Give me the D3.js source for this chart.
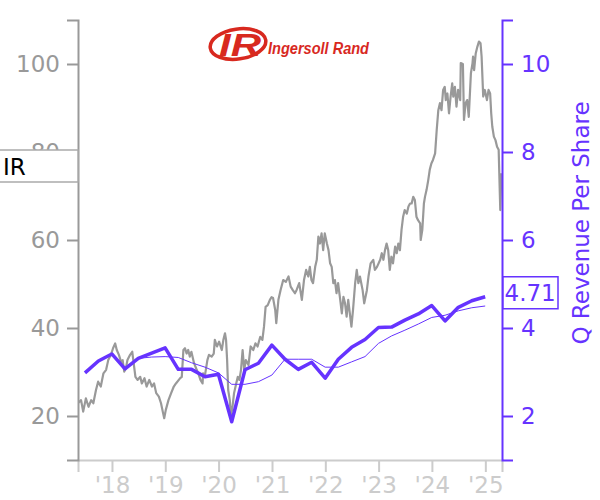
<!DOCTYPE html>
<html><head><meta charset="utf-8">
<script src="https://cdn.jsdelivr.net/npm/d3@7"></script>
<style>html,body{margin:0;padding:0;background:#fff;}svg{display:block;font-family:"DejaVu Sans",sans-serif;}</style>
</head><body><svg id="c" width="600" height="500"></svg>
<script>
// ---- data ----
const ticker = "IR";
const rightTitle = "Q Revenue Per Share";
const lastValueLabel = "4.71";
const xDomain = [2017.3625, 2025.3125];
const leftDomain = [10, 110];
const rightDomain = [1, 11];
const leftTicks = [20, 40, 60, 80, 100];
const rightTicks = [2, 4, 6, 8, 10];
const yearTicks = [2018, 2019, 2020, 2021, 2022, 2023, 2024, 2025];
const yearLabels = ["'18", "'19", "'20", "'21", "'22", "'23", "'24", "'25"];

const priceYears = [2017.36,2017.42,2017.46,2017.51,2017.56,2017.61,2017.65,2017.70,2017.74,2017.79,2017.84,2017.89,2017.93,2017.98,
2018.02,2018.06,2018.09,2018.13,2018.17,2018.20,2018.23,2018.26,2018.29,2018.34,2018.38,2018.40,2018.44,2018.48,2018.53,2018.56,2018.61,2018.65,2018.70,2018.75,2018.79,2018.83,2018.88,2018.92,2018.96,2018.98,
2019.01,2019.06,2019.11,2019.16,2019.20,2019.28,2019.31,2019.34,2019.37,2019.40,2019.43,2019.46,2019.49,2019.54,2019.58,2019.62,2019.66,2019.70,2019.71,2019.74,2019.79,2019.82,2019.87,2019.91,2019.93,2019.97,
2020.01,2020.06,2020.09,2020.12,2020.14,2020.16,2020.18,2020.21,2020.23,2020.26,2020.29,2020.33,2020.36,2020.39,2020.42,2020.45,2020.48,2020.51,2020.56,2020.60,2020.65,2020.69,2020.73,2020.78,2020.82,2020.85,2020.88,2020.92,2020.96,2020.99,
2021.02,2021.06,2021.08,2021.12,2021.16,2021.21,2021.26,2021.31,2021.35,2021.39,2021.43,2021.46,2021.51,2021.56,2021.60,2021.64,2021.68,2021.71,2021.74,2021.77,2021.81,2021.84,2021.87,2021.90,2021.93,2021.96,2021.99,
2022.03,2022.06,2022.09,2022.12,2022.15,2022.18,2022.21,2022.24,2022.28,2022.31,2022.34,2022.37,2022.40,2022.43,2022.46,2022.49,2022.52,2022.56,2022.59,2022.62,2022.65,2022.70,2022.73,2022.78,2022.81,2022.85,2022.90,2022.93,2022.97,
2023.03,2023.06,2023.09,2023.12,2023.15,2023.18,2023.21,2023.24,2023.27,2023.31,2023.34,2023.37,2023.40,2023.43,2023.46,2023.49,2023.53,2023.56,2023.59,2023.62,2023.65,2023.68,2023.71,2023.74,2023.78,2023.79,2023.82,2023.85,2023.87,2023.90,2023.93,2023.96,2023.99,
2024.02,2024.06,2024.09,2024.12,2024.15,2024.18,2024.21,2024.24,2024.26,2024.29,2024.32,2024.35,2024.38,2024.40,2024.43,2024.46,2024.49,2024.53,2024.54,2024.58,2024.60,2024.63,2024.66,2024.69,2024.73,2024.76,2024.77,2024.79,2024.82,2024.85,2024.88,2024.91,2024.93,2024.96,2024.99,
2025.03,2025.06,2025.09,2025.11,2025.13,2025.16,2025.19,2025.22,2025.25,2025.28,2025.30];
const priceValues = [22.9,23.6,21.0,24.0,22.1,23.6,22.9,25.9,27.8,26.7,29.7,30.5,32.7,33.9,
35.4,36.5,35.0,33.9,32.3,32.7,30.1,30.8,32.7,33.9,34.6,32.7,28.9,28.2,28.9,27.4,28.6,26.7,28.2,26.7,27.4,25.2,24.4,22.9,20.6,19.5,
21.4,23.6,25.2,26.7,27.4,28.6,28.9,35.0,35.4,34.2,35.0,33.5,34.6,32.0,30.8,29.7,28.2,27.4,29.7,28.9,32.7,33.9,33.5,34.2,37.3,35.8,
36.9,35.0,37.3,38.8,37.3,32.7,25.9,23.6,19.8,22.1,25.2,27.4,28.9,28.2,30.5,35.0,30.5,32.7,31.6,35.8,35.0,36.5,35.8,38.0,37.3,40.3,44.8,45.2,46.4,47.0,
46.8,44.1,41.1,46.4,48.6,50.9,50.5,51.7,49.4,48.6,47.9,48.6,50.2,46.4,50.9,53.2,51.7,53.9,50.9,50.2,53.9,55.5,60.8,59.2,61.5,57.7,61.5,
59.2,57.7,54.7,53.9,50.2,50.9,47.9,50.2,46.4,43.3,47.1,45.6,42.6,46.4,43.3,40.3,44.1,50.2,53.2,50.2,51.7,48.6,45.6,48.6,51.7,54.7,55.5,53.2,53.9,
55.5,57.0,55.5,57.7,59.2,57.7,53.2,56.2,54.7,58.5,57.0,59.2,57.7,62.3,65.3,66.8,66.0,67.6,68.3,68.3,69.8,69.1,65.3,64.5,63.8,60.0,62.3,68.3,69.8,71.4,73.5,76.0,77.4,
78.2,79.7,85.0,89.5,91.1,89.5,94.1,94.8,91.8,93.3,88.8,92.6,95.6,92.6,94.8,90.3,94.1,91.8,100.2,100.0,87.3,91.1,91.8,88.0,97.9,100.2,101.7,98.6,102.4,103.9,105.1,104.7,101.7,92.6,94.1,
91.8,94.1,93.3,88.8,85.8,83.5,82.7,81.2,80.5,66.8,75.2];

const quarterDates = ["2017-06-30","2017-09-30","2017-12-31","2018-03-31","2018-06-30","2018-09-30","2018-12-31",
"2019-03-31","2019-06-30","2019-09-30","2019-12-31","2020-03-31","2020-06-30","2020-09-30","2020-12-31",
"2021-03-31","2021-06-30","2021-09-30","2021-12-31","2022-03-31","2022-06-30","2022-09-30","2022-12-31",
"2023-03-31","2023-06-30","2023-09-30","2023-12-31","2024-03-31","2024-06-30","2024-09-30","2024-12-31"];
const revenuePerShare = [2.98,3.25,3.41,3.07,3.31,3.43,3.55,3.06,3.06,2.89,2.95,1.87,3.05,3.20,3.61,
3.29,3.06,3.22,2.86,3.29,3.56,3.74,4.01,4.02,4.18,4.32,4.51,4.16,4.47,4.62,4.71];
// trailing average line starts at Q2 2018
const avgStartIndex = 4;
const revenueAvg = [3.31,3.34,3.35,3.33,3.21,3.11,2.98,2.72,2.72,2.78,2.93,3.29,3.29,3.29,3.11,3.11,3.23,3.35,3.65,3.82,3.95,4.09,4.24,4.29,4.39,4.46,4.50];

// ---- helpers ----
function decToDate(y){const yr=Math.floor(y);const a=Date.UTC(yr,0,1),b=Date.UTC(yr+1,0,1);return new Date(a+(y-yr)*(b-a));}
const parse = d3.utcParse("%Y-%m-%d");

const purple = "#6633ff", gray = "#999999", light = "#cccccc";
const L = 78, R = 502, T = 20, B = 460;
const svg = d3.select("#c");

const x = d3.scaleUtc().domain(xDomain.map(decToDate)).range([L, R]);
const yL = d3.scaleLinear().domain(leftDomain).range([B, T]);
const yR = d3.scaleLinear().domain(rightDomain).range([B, T]);

svg.append("clipPath").attr("id","clip").append("rect").attr("x",L).attr("y",T).attr("width",R-L).attr("height",B-T);
const plot = svg.append("g").attr("clip-path","url(#clip)");

const price = priceYears.map((y,i)=>({d:decToDate(y), v:priceValues[i]}));
plot.append("path").datum(price)
  .attr("fill","none").attr("stroke",gray).attr("stroke-width",2.2).attr("stroke-linejoin","round")
  .attr("d", d3.line().x(p=>x(p.d)).y(p=>yL(p.v)));

const avg = revenueAvg.map((v,i)=>({d:parse(quarterDates[i+avgStartIndex]), v}));
plot.append("path").datum(avg)
  .attr("fill","none").attr("stroke",purple).attr("stroke-width",1)
  .attr("d", d3.line().x(p=>x(p.d)).y(p=>yR(p.v)));

const rev = revenuePerShare.map((v,i)=>({d:parse(quarterDates[i]), v}));
plot.append("path").datum(rev)
  .attr("fill","none").attr("stroke",purple).attr("stroke-width",3.5).attr("stroke-linejoin","round")
  .attr("d", d3.line().x(p=>x(p.d)).y(p=>yR(p.v)));

// ---- axes ----
const fs = "23px";
const gx = svg.append("g").attr("transform",`translate(0,${B})`)
  .call(d3.axisBottom(x).tickValues(yearTicks.map(y=>decToDate(y))).tickFormat((d,i)=>yearLabels[i]).tickSize(12).tickSizeOuter(12).tickPadding(5));
gx.selectAll("path,line").attr("stroke",light).attr("stroke-width",2);
gx.selectAll("text").attr("fill",light).style("font-size",fs).style("font-family","DejaVu Sans");

const gl = svg.append("g").attr("transform",`translate(${L},0)`)
  .call(d3.axisLeft(yL).tickValues(leftTicks).tickSize(11).tickSizeOuter(11).tickPadding(7));
gl.selectAll("path,line").attr("stroke",gray).attr("stroke-width",2);
gl.selectAll("text").attr("fill",gray).style("font-size",fs).style("font-family","DejaVu Sans");

const gr = svg.append("g").attr("transform",`translate(${R},0)`)
  .call(d3.axisRight(yR).tickValues(rightTicks).tickSize(11).tickSizeOuter(11).tickPadding(8));
gr.selectAll("path,line").attr("stroke",purple).attr("stroke-width",2);
gr.selectAll("text").attr("fill",purple).style("font-size",fs).style("font-family","DejaVu Sans");

svg.append("text").attr("transform","translate(589,223) rotate(-90)")
  .attr("text-anchor","middle").attr("fill",purple).style("font-size",fs).text(rightTitle);

// ticker box
svg.append("rect").attr("x",-1).attr("y",150).attr("width",79).attr("height",32)
  .attr("fill","#fff").attr("stroke","#aaaaaa").attr("stroke-width",1.5);
svg.append("text").attr("x",3).attr("y",175).attr("fill","#000").style("font-size",fs).text(ticker);

// last value box
const lastY = yR(revenuePerShare[revenuePerShare.length-1]);
svg.append("rect").attr("x",503).attr("y",lastY-20).attr("width",55).attr("height",32)
  .attr("fill","#fff").attr("stroke",purple).attr("stroke-width",1.5);
svg.append("text").attr("x",504.5).attr("y",lastY+4).attr("fill",purple).style("font-size",fs).text(lastValueLabel);

// logo
const red = "#d8291f";
const logo = svg.append("g");
logo.append("ellipse").attr("cx",238).attr("cy",44).attr("rx",28).attr("ry",15)
  .attr("transform","rotate(-8,238,44)").attr("fill","none").attr("stroke",red).attr("stroke-width",3.5);
logo.append("text").attr("x",219).attr("y",56).attr("fill",red).attr("textLength",42).attr("lengthAdjust","spacingAndGlyphs")
  .style("font-family","Liberation Sans").style("font-weight","bold").style("font-style","italic").style("font-size","32px").text("IR");
logo.append("text").attr("x",268).attr("y",54).attr("fill",red).attr("textLength",101).attr("lengthAdjust","spacingAndGlyphs")
  .style("font-family","Liberation Sans").style("font-weight","bold").style("font-style","italic").style("font-size","16px").text("Ingersoll Rand");
</script></body></html>
